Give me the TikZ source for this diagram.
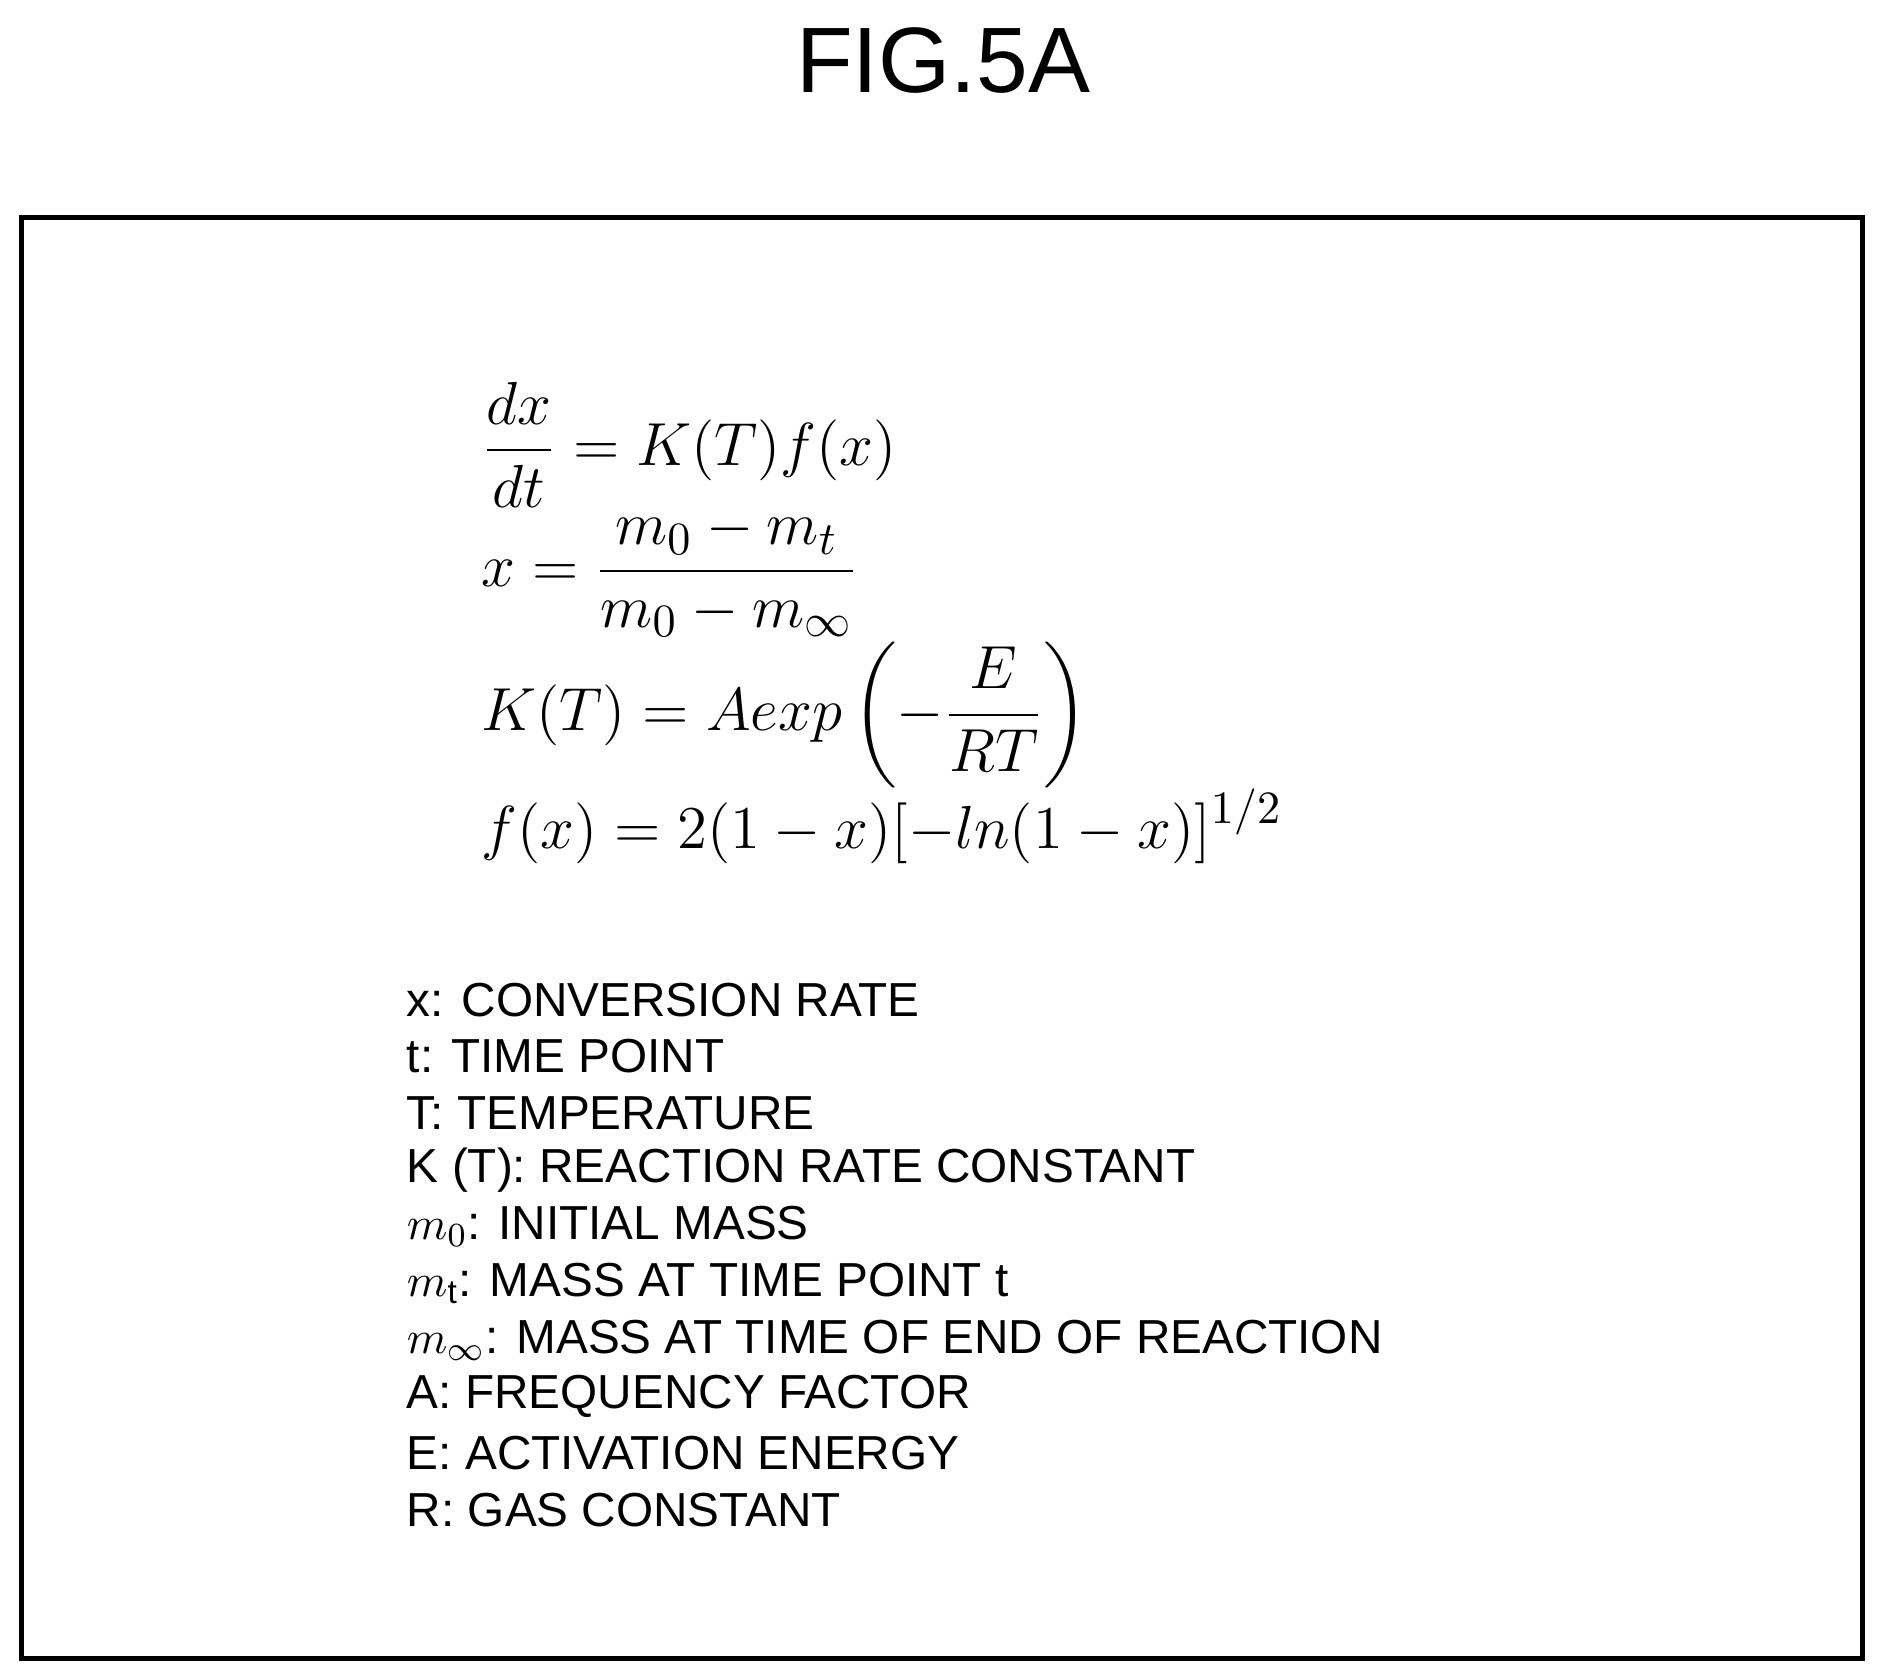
\documentclass[tikz,border=0pt]{standalone}
\usepackage{amsmath}
\usepackage{fontspec}
\setmainfont{Liberation Sans}
\begin{document}
\begin{tikzpicture}[x=0.1mm,y=-0.1mm,
  eq/.style={anchor=west,inner sep=0pt,font=\fontsize{15}{18}\selectfont},
  leg/.style={anchor=west,inner sep=0pt,font=\fontsize{11.3}{13}\selectfont}]
\useasboundingbox (0,0) rectangle (1568,1398);
\node[inner sep=0pt,font=\fontsize{22}{26}\selectfont] (title) at (785,50) {FIG.5A};
\draw[line width=1.2pt] (18,181) rectangle (1550,1380);
\node[eq] (e1) at (400,370) {$\displaystyle\frac{dx}{dt}=K(T)f(x)$};
\node[eq] (e2) at (400,477) {$\displaystyle x=\frac{m_0-m_t}{m_0-m_\infty}$};
\node[eq] (e3) at (400,595) {$\displaystyle K(T)=Aexp\left(-\frac{E}{RT}\right)$};
\node[eq] (e4) at (400,688) {$\displaystyle f(x)=2(1-x)[-ln(1-x)]^{1/2}$};
\foreach \t [count=\i from 0] in {x: CONVERSION RATE, t: TIME POINT, T: TEMPERATURE, K (T): REACTION RATE CONSTANT, {$m_0$: INITIAL MASS}, {$m_{\mathrm t}$: MASS AT TIME POINT t}, {$m_\infty$: MASS AT TIME OF END OF REACTION}, A: FREQUENCY FACTOR, E: ACTIVATION ENERGY, R: GAS CONSTANT}
  \node[leg] (l\i) at (338,{832+47.2*\i}) {\t};
\end{tikzpicture}
\end{document}
